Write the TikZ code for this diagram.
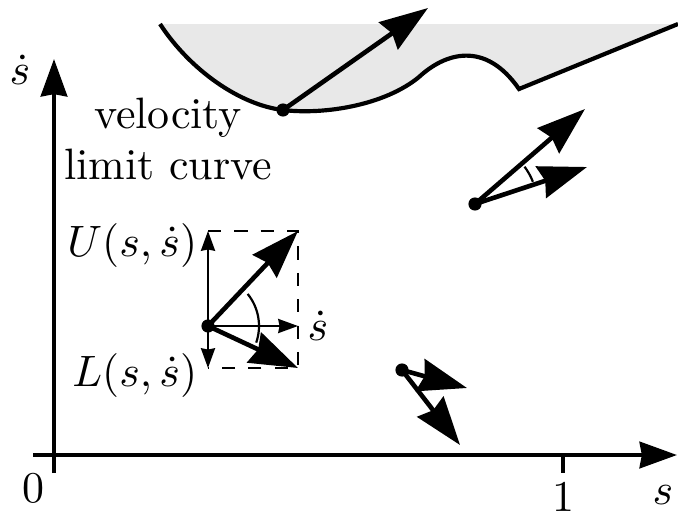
\documentclass[tikz,border=0pt]{standalone}
\usepackage{amsmath}
\usepackage{amssymb}
\usepackage{tikz}
\usetikzlibrary{arrows.meta}

\begin{document}
\begin{tikzpicture}[x=0.8cm,y=0.8cm,
        axis/.style={line width=1pt,-{Stealth[length=8.5pt,width=6pt,inset=0.5pt]}},
        vec/.style={line width=1.05pt,-{Stealth[length=11pt,width=7.5pt,inset=1pt]}},
        thinvec/.style={line width=0.5pt,-{Stealth[length=4.5pt,width=3.2pt,inset=0.3pt]}},
        pt/.style={circle,fill,inner sep=0pt,minimum size=3pt}]
        \useasboundingbox (0,0) rectangle (6.78,5.15);
        % region above the limit curve
        \fill[gray!18] (1.60,4.91) .. controls (1.90,4.45) and (2.40,4.10) .. (2.83,4.05)
            .. controls (3.25,4.00) and (3.85,4.10) .. (4.19,4.38)
            .. controls (4.45,4.62) and (4.85,4.75) .. (5.19,4.26) -- (6.78,4.91) -- cycle;
        \draw[line width=0.95pt] (1.60,4.91) .. controls (1.90,4.45) and (2.40,4.10) .. (2.83,4.05)
            .. controls (3.25,4.00) and (3.85,4.10) .. (4.19,4.38)
            .. controls (4.45,4.62) and (4.85,4.75) .. (5.19,4.26) -- (6.78,4.91);
        % axes
        \coordinate (xl) at (0.33,0.60); \coordinate (xr) at (6.77,0.60);
        \coordinate (yb) at (0.54,0.42); \coordinate (yt) at (0.54,4.56);
        \draw[axis] (xl) -- (xr); \draw[axis] (yb) -- (yt);
        \coordinate (t1) at (5.63,0.60); \coordinate (t1b) at (5.63,0.42);
        \draw[line width=1pt] (t1) -- (t1b);
        \node (zero) at (0.33,0.27) {$0$};
        \node (one) at (5.63,0.18) {$1$};
        \node (sl) at (6.63,0.20) {$s$};
        \node (sdl) at (0.20,4.45) {$\dot{s}$};
        \node[align=center] (vlc) at (1.68,3.76) {velocity\\[-0.6pt]limit curve};
        % vector on the limit curve
        \node[pt] (a) at (2.83,4.05) {};
        \coordinate (a1) at (4.28,5.07);
        \draw[vec] (a.center) -- (a1);
        % inset: the cone of feasible directions
        \node[pt] (p) at (2.08,1.89) {};
        \coordinate (pu) at (2.08,2.84); \coordinate (pd) at (2.08,1.47);
        \coordinate (pr) at (2.98,1.89);
        \coordinate (pur) at (2.98,2.84); \coordinate (pdr) at (2.98,1.47);
        \draw[dashed,line width=0.45pt] (pu) -- (pur) -- (pdr) -- (pd);
        \draw[thinvec] (p.center) -- (pu);
        \draw[thinvec] (p.center) -- (pd);
        \draw[thinvec] (p.center) -- (pr);
        \draw[vec] (p.center) -- (pur);
        \draw[vec] (p.center) -- (pdr);
        \draw[line width=0.5pt] (p.center) ++(-19:0.51) arc[start angle=-19,end angle=39,radius=0.51];
        \node[right,inner sep=2pt] (sdi) at (pr) {$\dot{s}$};
        \node[anchor=east,inner sep=0pt] (U) at (1.98,2.69) {$U(s,\dot{s})$};
        \node[anchor=east,inner sep=0pt] (L) at (1.98,1.39) {$L(s,\dot{s})$};
        % cones at other states
        \node[pt] (b) at (4.75,3.11) {};
        \coordinate (b1) at (5.85,4.06); \coordinate (b2) at (5.87,3.48);
        \draw[vec] (b.center) -- (b1); \draw[vec] (b.center) -- (b2);
        \draw[line width=0.5pt] (b.center) ++(21:0.62) arc[start angle=21,end angle=37,radius=0.62];
        \node[pt] (c) at (4.02,1.45) {};
        \coordinate (c1) at (4.67,1.27); \coordinate (c2) at (4.60,0.70);
        \draw[vec] (c.center) -- (c1); \draw[vec] (c.center) -- (c2);
        \draw[line width=0.5pt] (c.center) ++(-45:0.25) arc[start angle=-45,end angle=-24,radius=0.25];
\end{tikzpicture}
\end{document}
